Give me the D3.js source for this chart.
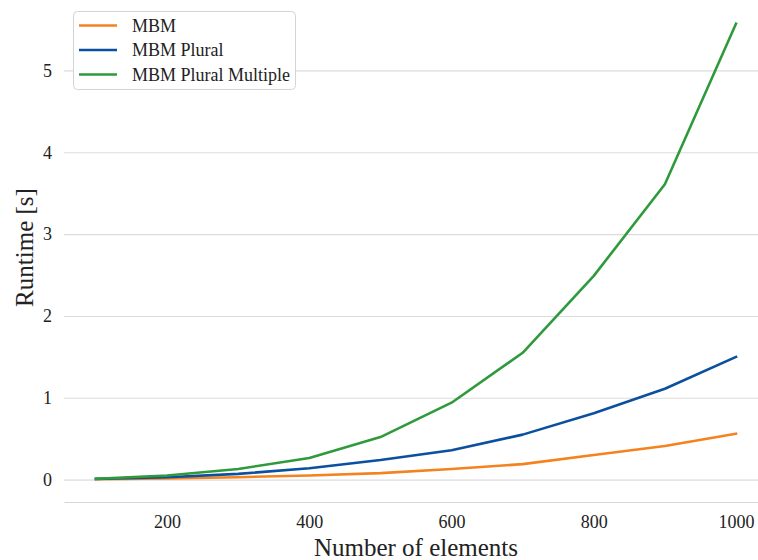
<!DOCTYPE html>
<html>
<head>
<meta charset="utf-8">
<script src="https://cdn.jsdelivr.net/npm/d3@7"></script>
<style>
  html, body { margin: 0; padding: 0; background: #fff; }
  svg text { font-family: "Liberation Serif", "Times New Roman", serif !important; }
</style>
</head>
<body>
<svg id="chart" width="758" height="560"></svg>
<script>
// Runtime measurements per problem size
const elements = [100, 200, 300, 400, 500, 600, 700, 800, 900, 1000];
const mbm = [0.005, 0.015, 0.03, 0.05, 0.08, 0.13, 0.19, 0.30, 0.41, 0.56];
const mbmPlural = [0.01, 0.03, 0.07, 0.14, 0.24, 0.36, 0.55, 0.81, 1.11, 1.50];
const mbmPluralMultiple = [0.01, 0.05, 0.13, 0.265, 0.52, 0.94, 1.55, 2.49, 3.61, 5.57];

const seriesNames = ["MBM", "MBM Plural", "MBM Plural Multiple"];
const seriesColors = ["#f4831f", "#0b4f9f", "#2f9a3c"];
const xTicks = [200, 400, 600, 800, 1000];
const yTicks = [0, 1, 2, 3, 4, 5];

const series = [mbm, mbmPlural, mbmPluralMultiple].map((vals, i) => ({
  name: seriesNames[i],
  color: seriesColors[i],
  points: elements.map((e, j) => ({ x: e, y: vals[j] }))
}));

const serif = "'Liberation Serif', 'Times New Roman', serif";
const svg = d3.select("#chart");
const plot = { left: 64, right: 768, top: 1, bottom: 502 };

// Padded domains (5% margin on each side of the data range)
const xMin = d3.min(elements), xMax = d3.max(elements);
const xPad = (xMax - xMin) * 0.05;
const allY = [].concat(mbm, mbmPlural, mbmPluralMultiple);
const yMin = d3.min(allY), yMax = d3.max(allY);
const yPad = (yMax - yMin) * 0.05;

const x = d3.scaleLinear().domain([xMin - xPad, xMax + xPad]).range([plot.left, plot.right]);
const y = d3.scaleLinear().domain([yMin - yPad, yMax + yPad]).range([plot.bottom, plot.top]);

// Horizontal grid lines + y tick labels
const yAxis = d3.axisLeft(y).tickValues(yTicks).tickFormat(d3.format("d"))
  .tickSize(-(plot.right - plot.left)).tickPadding(12);
const gy = svg.append("g").attr("transform", `translate(${plot.left},0)`).call(yAxis)
  .attr("font-family", serif);
gy.select(".domain").remove();
gy.selectAll(".tick line").attr("stroke", "#dcdcdc").attr("stroke-width", 1.1);
gy.selectAll(".tick text").attr("font-size", 18).attr("fill", "#222")
  .style("font-family", serif);

// Bottom spine + x tick labels
const xAxis = d3.axisBottom(x).tickValues(xTicks).tickFormat(d3.format("d"))
  .tickSize(0).tickPadding(13);
const gx = svg.append("g").attr("transform", `translate(0,${plot.bottom})`).call(xAxis)
  .attr("font-family", serif);
gx.select(".domain").attr("stroke", "#d6d6d6").attr("stroke-width", 1.1);
gx.selectAll(".tick text").attr("font-size", 18).attr("fill", "#222")
  .style("font-family", serif);

// Series lines
const line = d3.line().x(d => x(d.x)).y(d => y(d.y));
svg.append("g").selectAll("path").data(series).join("path")
  .attr("d", d => line(d.points))
  .attr("fill", "none")
  .attr("stroke", d => d.color)
  .attr("stroke-width", 2.6)
  .attr("stroke-linejoin", "round")
  .attr("stroke-linecap", "square");

// Axis titles
svg.append("text")
  .attr("x", (plot.left + plot.right) / 2)
  .attr("y", 556)
  .attr("text-anchor", "middle")
  .attr("font-size", 25)
  .attr("fill", "#222")
  .style("font-family", serif)
  .text("Number of elements");

svg.append("text")
  .attr("transform", `translate(33,${(plot.top + plot.bottom) / 2 - 4}) rotate(-90)`)
  .attr("text-anchor", "middle")
  .attr("font-size", 25)
  .attr("fill", "#222")
  .style("font-family", serif)
  .text("Runtime [s]");

// Legend
const legend = svg.append("g");
legend.append("rect")
  .attr("x", 73.5).attr("y", 11.5).attr("width", 222).attr("height", 78)
  .attr("rx", 4).attr("fill", "rgba(255,255,255,0.9)")
  .attr("stroke", "#d4d4d4").attr("stroke-width", 1);
const entries = legend.selectAll("g.entry").data(series).join("g")
  .attr("class", "entry")
  .attr("transform", (d, i) => `translate(0,${25.5 + i * 24.5})`);
entries.append("line")
  .attr("x1", 79).attr("x2", 117).attr("y1", 0).attr("y2", 0)
  .attr("stroke", d => d.color).attr("stroke-width", 2.6);
entries.append("text")
  .attr("x", 132).attr("y", 0).attr("dy", "0.35em")
  .attr("font-size", 18).attr("fill", "#222")
  .style("font-family", serif)
  .text(d => d.name);
</script>
</body>
</html>
